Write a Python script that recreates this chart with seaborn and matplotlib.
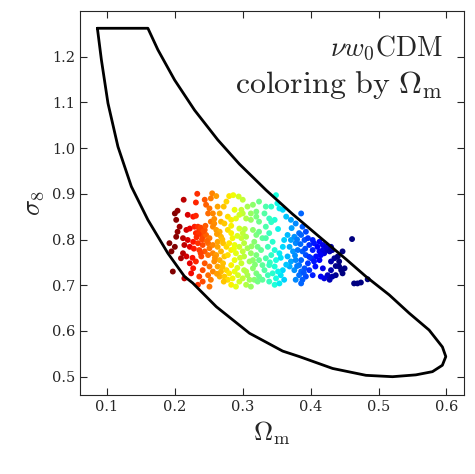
import numpy as np
import pandas as pd
import seaborn as sns
import matplotlib.pyplot as plt

# contour boundary (Omega_m, sigma_8)
contour_om = [0.0859, 0.1603, 0.1750, 0.1996, 0.2290, 0.2632, 0.2951, 0.3344,
              0.3731, 0.4128, 0.4521, 0.4815, 0.5157, 0.5451, 0.5745, 0.5941,
              0.5991, 0.5940, 0.5794, 0.5550, 0.5206, 0.4815, 0.4324, 0.3834,
              0.3588, 0.3100, 0.2611, 0.2262, 0.2143, 0.1897, 0.1603, 0.1359,
              0.1162, 0.1015, 0.0918, 0.0859]
contour_s8 = [1.262, 1.262, 1.215, 1.149, 1.083, 1.018, 0.965, 0.908,
              0.856, 0.806, 0.757, 0.719, 0.679, 0.639, 0.602, 0.565,
              0.544, 0.525, 0.511, 0.504, 0.500, 0.503, 0.518, 0.544,
              0.556, 0.595, 0.653, 0.705, 0.719, 0.770, 0.843, 0.916,
              1.003, 1.098, 1.193, 1.262]

# sample points
omega_m = [
    0.233, 0.213, 0.231, 0.255, 0.253, 0.261, 0.244, 0.246, 0.251, 0.280,
    0.286, 0.294, 0.300, 0.276, 0.272, 0.263, 0.266, 0.288, 0.298, 0.307,
    0.315, 0.320, 0.312, 0.324, 0.334, 0.342, 0.349, 0.351, 0.200, 0.204,
    0.202, 0.219, 0.227, 0.231, 0.249, 0.256, 0.253, 0.258, 0.268, 0.273,
    0.278, 0.283, 0.290, 0.305, 0.300, 0.295, 0.312, 0.320, 0.324, 0.332,
    0.339, 0.334, 0.347, 0.354, 0.359, 0.364, 0.371, 0.378, 0.386,
    0.207, 0.204, 0.202, 0.217, 0.222, 0.229, 0.212, 0.219, 0.227, 0.214,
    0.222, 0.192, 0.200, 0.195, 0.212, 0.217,
    0.234, 0.236, 0.239, 0.244, 0.231, 0.241, 0.246, 0.251, 0.249, 0.241,
    0.234, 0.236, 0.244, 0.251, 0.249, 0.239, 0.256,
    0.256, 0.261, 0.266, 0.268, 0.263, 0.256, 0.263, 0.271, 0.276, 0.268,
    0.261, 0.273, 0.266,
    0.278, 0.283, 0.285, 0.280, 0.288, 0.283, 0.290, 0.278, 0.288, 0.283,
    0.295, 0.300, 0.298, 0.305, 0.302, 0.295, 0.307, 0.300, 0.312, 0.302,
    0.298, 0.310,
    0.315, 0.320, 0.324, 0.329, 0.317, 0.322, 0.327, 0.320, 0.315, 0.324,
    0.329,
    0.334, 0.339, 0.344, 0.337, 0.347, 0.342, 0.334, 0.349, 0.339, 0.347,
    0.354, 0.359, 0.361,
    0.366, 0.371, 0.376, 0.378, 0.383, 0.369, 0.374, 0.381, 0.366, 0.371,
    0.378, 0.369, 0.376, 0.383, 0.383, 0.378,
    0.197, 0.209, 0.222, 0.227, 0.231, 0.214, 0.224, 0.236, 0.241, 0.244,
    0.251, 0.249, 0.256, 0.241, 0.253, 0.234, 0.251, 0.258,
    0.263, 0.271, 0.268, 0.276, 0.266, 0.273, 0.280, 0.278, 0.288, 0.285,
    0.283, 0.293, 0.295, 0.290,
    0.302, 0.307, 0.300, 0.310, 0.305, 0.315, 0.320, 0.317, 0.324, 0.322,
    0.312,
    0.332, 0.337, 0.344, 0.329, 0.339, 0.349, 0.347, 0.356, 0.359, 0.361,
    0.354,
    0.388, 0.393, 0.386, 0.391, 0.396, 0.403, 0.398, 0.405, 0.410, 0.403,
    0.413, 0.418, 0.420, 0.425, 0.428, 0.415, 0.408, 0.401, 0.393, 0.388,
    0.386, 0.396, 0.405, 0.391, 0.386, 0.398, 0.403, 0.393, 0.388, 0.386,
    0.413, 0.418, 0.423, 0.430, 0.432, 0.435, 0.440, 0.447, 0.430, 0.442,
    0.445, 0.450, 0.447, 0.437, 0.430, 0.425, 0.420, 0.428, 0.432, 0.418,
    0.415, 0.461, 0.464, 0.469, 0.474, 0.484,
    # denser parts of the cloud
    0.238, 0.242, 0.235, 0.245, 0.240, 0.232, 0.247, 0.228, 0.238, 0.226,
    0.258, 0.262, 0.270, 0.259, 0.270, 0.262, 0.272,
    0.283, 0.292, 0.287, 0.296, 0.292, 0.305, 0.303, 0.313, 0.318,
    0.342, 0.352, 0.340, 0.356, 0.352, 0.364,
    0.372, 0.380, 0.377, 0.385, 0.392, 0.398, 0.407, 0.413, 0.390, 0.380,
    0.437, 0.442,
]
sigma_8 = [
    0.900, 0.887, 0.881, 0.901, 0.890, 0.895, 0.887, 0.876, 0.868, 0.895,
    0.897, 0.894, 0.887, 0.883, 0.872, 0.872, 0.857, 0.865, 0.865, 0.872,
    0.876, 0.861, 0.857, 0.883, 0.872, 0.872, 0.897, 0.879, 0.857, 0.863,
    0.843, 0.854, 0.850, 0.852, 0.857, 0.857, 0.839, 0.835, 0.839, 0.835,
    0.850, 0.843, 0.846, 0.846, 0.857, 0.854, 0.843, 0.850, 0.839, 0.857,
    0.846, 0.828, 0.843, 0.868, 0.865, 0.850, 0.843, 0.835, 0.857,
    0.828, 0.817, 0.806, 0.821, 0.824, 0.828, 0.803, 0.799, 0.795, 0.788,
    0.784, 0.792, 0.784, 0.774, 0.770, 0.763,
    0.828, 0.821, 0.814, 0.821, 0.814, 0.806, 0.810, 0.803, 0.792, 0.788,
    0.792, 0.777, 0.774, 0.781, 0.766, 0.763, 0.770,
    0.828, 0.821, 0.817, 0.806, 0.795, 0.788, 0.784, 0.792, 0.784, 0.774,
    0.766, 0.763, 0.755,
    0.821, 0.814, 0.803, 0.792, 0.788, 0.777, 0.770, 0.766, 0.755, 0.744,
    0.824, 0.814, 0.803, 0.806, 0.792, 0.784, 0.781, 0.774, 0.770, 0.763,
    0.748, 0.752,
    0.821, 0.810, 0.817, 0.803, 0.795, 0.784, 0.777, 0.766, 0.755, 0.755,
    0.744,
    0.803, 0.814, 0.795, 0.784, 0.777, 0.766, 0.759, 0.755, 0.744, 0.741,
    0.770, 0.784, 0.799,
    0.810, 0.799, 0.806, 0.792, 0.814, 0.784, 0.774, 0.777, 0.763, 0.752,
    0.755, 0.741, 0.733, 0.744, 0.722, 0.712,
    0.730, 0.759, 0.748, 0.737, 0.752, 0.715, 0.726, 0.719, 0.733, 0.748,
    0.741, 0.722, 0.730, 0.708, 0.712, 0.701, 0.697, 0.752,
    0.741, 0.748, 0.730, 0.733, 0.719, 0.719, 0.726, 0.712, 0.730, 0.715,
    0.701, 0.722, 0.708, 0.697,
    0.733, 0.722, 0.715, 0.712, 0.701, 0.737, 0.726, 0.712, 0.719, 0.708,
    0.697,
    0.733, 0.722, 0.726, 0.712, 0.708, 0.715, 0.701, 0.722, 0.733, 0.712,
    0.704,
    0.828, 0.817, 0.810, 0.799, 0.803, 0.799, 0.788, 0.792, 0.784, 0.777,
    0.774, 0.777, 0.770, 0.777, 0.774, 0.766, 0.763, 0.759, 0.766, 0.774,
    0.755, 0.748, 0.752, 0.737, 0.730, 0.733, 0.722, 0.719, 0.712, 0.704,
    0.795, 0.788, 0.784, 0.784, 0.777, 0.759, 0.763, 0.774, 0.752, 0.741,
    0.733, 0.737, 0.726, 0.722, 0.733, 0.722, 0.715, 0.712, 0.719, 0.737,
    0.719, 0.801, 0.704, 0.704, 0.706, 0.713,
    # denser parts of the cloud
    0.826, 0.818, 0.812, 0.830, 0.800, 0.805, 0.797, 0.780, 0.770, 0.760,
    0.845, 0.812, 0.800, 0.760, 0.740, 0.725, 0.708,
    0.830, 0.808, 0.780, 0.760, 0.738, 0.730, 0.823, 0.785, 0.745,
    0.838, 0.823, 0.750, 0.760, 0.730, 0.745,
    0.825, 0.800, 0.765, 0.790, 0.780, 0.762, 0.741, 0.755, 0.727, 0.742,
    0.742, 0.752,
]

df = pd.DataFrame({"om": omega_m, "s8": sigma_8})

sns.set_style("ticks")
plt.rcParams["font.family"] = ["DejaVu Serif"]
plt.rcParams["mathtext.fontset"] = "cm"

fig = plt.figure(figsize=(4.75, 4.74), dpi=100)
ax = fig.add_axes([0.168, 0.1667, 0.809, 0.8103])

# colour by Omega_m (jet, reversed)
sns.scatterplot(data=df, x="om", y="s8", hue="om", palette="jet_r",
                hue_norm=(0.20, 0.44), s=18,
                edgecolor="none", legend=False, ax=ax)
ax.plot(contour_om, contour_s8, color="black", lw=2.0, solid_joinstyle="round")

ax.set_xlim(0.06, 0.626)
ax.set_ylim(0.46, 1.30)
ax.set_xticks([0.1, 0.2, 0.3, 0.4, 0.5, 0.6])
ax.set_yticks([0.5, 0.6, 0.7, 0.8, 0.9, 1.0, 1.1, 1.2])
ax.tick_params(direction="in", top=True, right=True, length=5, labelsize=10.5)
ax.set_xlabel(r"$\Omega_\mathrm{m}$", fontsize=19)
ax.set_ylabel(r"$\sigma_8$", fontsize=19)

ax.text(0.945, 0.94, r"$\nu w_0\mathrm{CDM}$", transform=ax.transAxes,
        ha="right", va="top", fontsize=20)
ax.text(0.945, 0.85, r"$\mathrm{coloring\ by\ }\Omega_\mathrm{m}$",
        transform=ax.transAxes, ha="right", va="top", fontsize=23)

fig.savefig("out.png", dpi=100)
